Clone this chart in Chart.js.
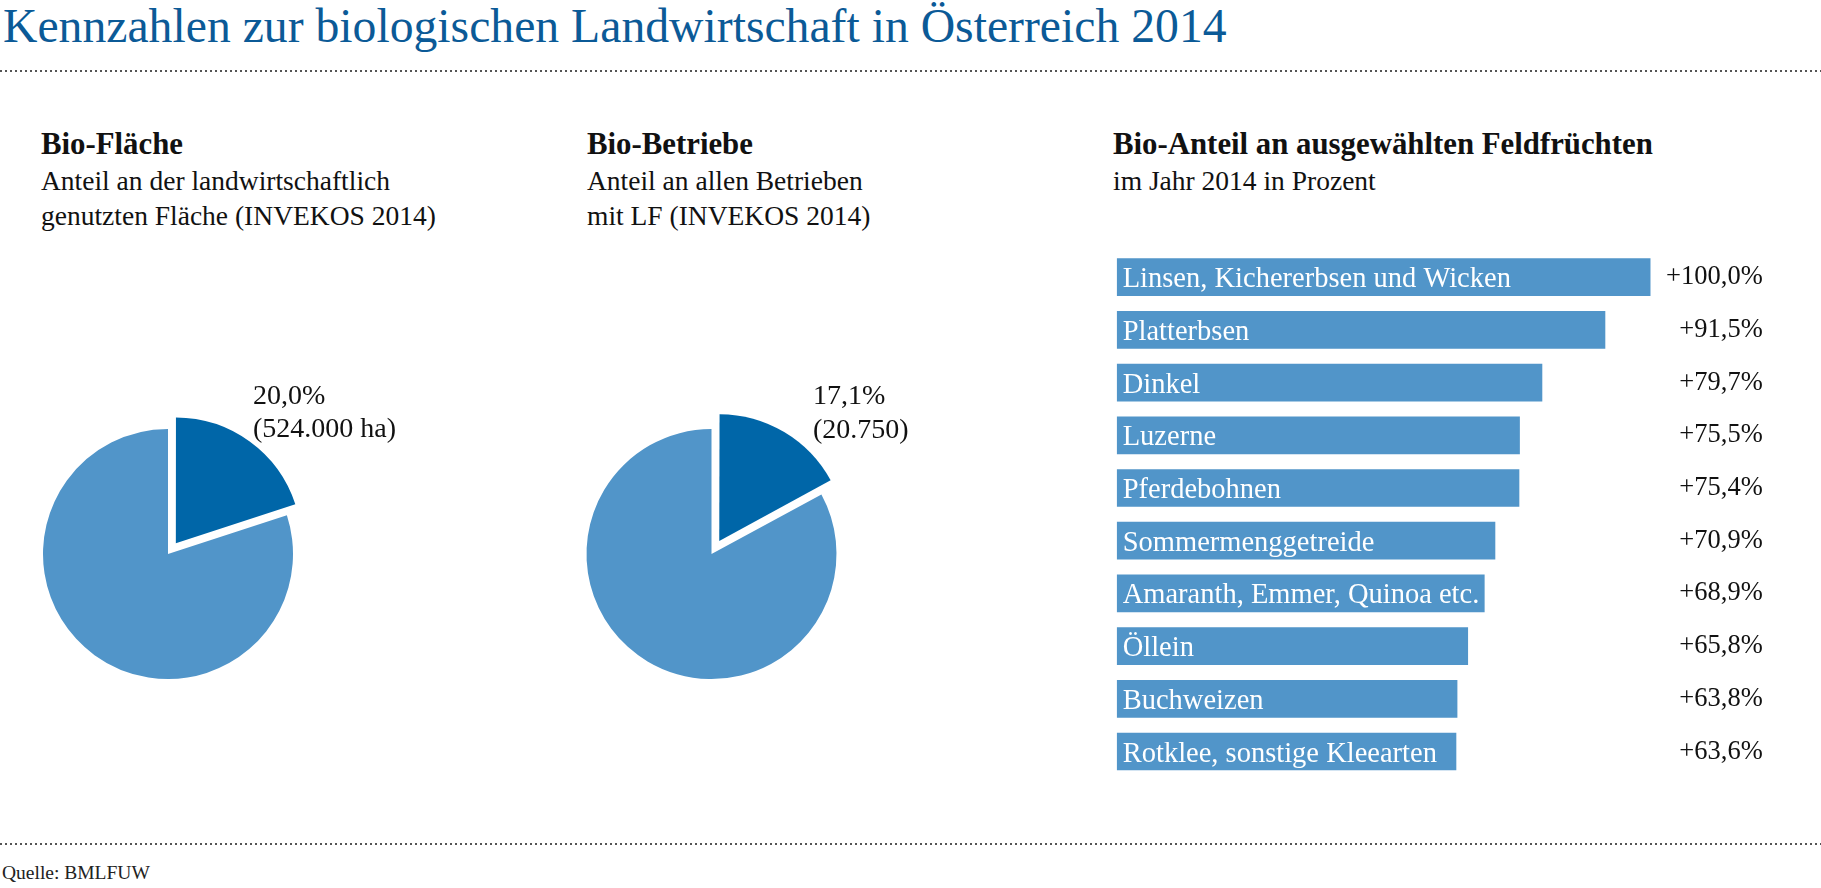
<!DOCTYPE html>
<html lang="de">
<head>
<meta charset="utf-8">
<title>Kennzahlen zur biologischen Landwirtschaft in Österreich 2014</title>
<script src="https://cdn.jsdelivr.net/npm/chart.js@4.4.1/dist/chart.umd.min.js"></script>
<style>
    html, body { margin: 0; padding: 0; background: #fff; }
    body {
        width: 1821px; height: 888px; position: relative; overflow: hidden;
        font-family: "Liberation Serif", "Times New Roman", serif; color: #111;
    }
    .abs { position: absolute; white-space: nowrap; }
    #title { left: 3px; top: 2px; font-size: 47.7px; line-height: 48px; color: #0b5a97; }
    .dots {
        position: absolute; left: 0; width: 1821px; height: 2px;
        background: repeating-linear-gradient(to right, #555 0 2px, transparent 2px 5px);
    }
    .head { top: 129px; font-weight: bold; font-size: 30.8px; line-height: 31px; }
    .sub { top: 163px; font-size: 27.5px; line-height: 35px; }
    #source { left: 2px; top: 863px; font-size: 19.5px; line-height: 19.5px; color: #222; }
    canvas { position: absolute; }
</style>
</head>
<body>

<div id="title" class="abs">Kennzahlen zur biologischen Landwirtschaft in Österreich 2014</div>
<div class="dots" style="top:70px"></div>

<div class="abs head" style="left:41px">Bio-Fläche</div>
<div class="abs sub" style="left:41px">Anteil an der landwirtschaftlich<br>genutzten Fläche (INVEKOS 2014)</div>

<div class="abs head" style="left:587px">Bio-Betriebe</div>
<div class="abs sub" style="left:587px">Anteil an allen Betrieben<br>mit LF (INVEKOS 2014)</div>

<div class="abs head" style="left:1113px">Bio-Anteil an ausgewählten Feldfrüchten</div>
<div class="abs sub" style="left:1113px">im Jahr 2014 in Prozent</div>

<canvas id="pie-flaeche" width="480" height="360" style="left:0px; top:360px"></canvas>
<canvas id="pie-betriebe" width="480" height="360" style="left:540px; top:360px"></canvas>
<canvas id="bar-crops" width="721" height="560" style="left:1100px; top:240px"></canvas>

<div class="dots" style="top:843px"></div>
<div id="source" class="abs">Quelle: BMLFUW</div>

<script>
// Data
const flaecheShare = [20.0, 80.0];
const flaecheLabel = ['20,0%', '(524.000 ha)'];

const betriebeShare = [17.1, 82.9];
const betriebeLabel = ['17,1%', '(20.750)'];

const crops = [
    'Linsen, Kichererbsen und Wicken',
    'Platterbsen',
    'Dinkel',
    'Luzerne',
    'Pferdebohnen',
    'Sommermenggetreide',
    'Amaranth, Emmer, Quinoa etc.',
    'Öllein',
    'Buchweizen',
    'Rotklee, sonstige Kleearten'
];
const cropShares = [100.0, 91.5, 79.7, 75.5, 75.4, 70.9, 68.9, 65.8, 63.8, 63.6];

const DARK = '#0066a8';
const LIGHT = '#5195c9';
const SERIF = '"Liberation Serif", "Times New Roman", serif';

function fmtPct(v) {
    return '+' + v.toFixed(1).replace('.', ',') + '%';
}

// Two-line label next to the exploded slice
const pieLabelPlugin = {
    id: 'pieLabel',
    afterDraw(chart, args, opts) {
        const arc = chart.getDatasetMeta(0).data[0];
        const ctx = chart.ctx;
        ctx.save();
        ctx.font = '28px ' + SERIF;
        ctx.fillStyle = '#111';
        ctx.textAlign = 'left';
        ctx.textBaseline = 'alphabetic';
        opts.lines.forEach((t, i) => {
            ctx.fillText(t, arc.x + opts.dx, arc.y + opts.dy + i * opts.lineGap);
        });
        ctx.restore();
    }
};

// Chart.js moves an arc by offset/4 * (1 + fix), so the offset is scaled up here
function renderPie(id, shares, lines, padding, shift, dx, lineGap) {
    const sweep = shares[0] / 100 * 2 * Math.PI;
    const fix = 1 - Math.sin(Math.min(Math.PI, sweep));
    const offset = shift * 4 / (1 + fix);
    return new Chart(document.getElementById(id), {
        type: 'pie',
        data: {
            labels: ['Bio', 'Konventionell'],
            datasets: [{
                data: shares,
                backgroundColor: [DARK, LIGHT],
                borderWidth: 0,
                offset: [offset, 0],
                radius: 125
            }]
        },
        options: {
            responsive: false,
            animation: false,
            layout: { padding: padding },
            plugins: {
                legend: { display: false },
                tooltip: { enabled: false },
                pieLabel: { lines: lines, dx: dx, dy: -150, lineGap: lineGap }
            }
        },
        plugins: [pieLabelPlugin]
    });
}

renderPie('pie-flaeche', flaecheShare, flaecheLabel,
    { left: 18, right: 162, top: 44, bottom: 16 }, 14, 85, 33);
renderPie('pie-betriebe', betriebeShare, betriebeLabel,
    { left: 21.5, right: 158.5, top: 44, bottom: 16 }, 17, 101.5, 34);

// Labels inside the bars and values to the right
const barLabelPlugin = {
    id: 'barLabels',
    afterDatasetsDraw(chart) {
        const { ctx, chartArea } = chart;
        const meta = chart.getDatasetMeta(0);
        ctx.save();
        ctx.textBaseline = 'alphabetic';
        meta.data.forEach((bar, i) => {
            ctx.font = '28.5px ' + SERIF;
            ctx.fillStyle = '#fff';
            ctx.textAlign = 'left';
            ctx.fillText(chart.data.labels[i], chartArea.left + 6, bar.y + 10);

            ctx.font = '26.5px ' + SERIF;
            ctx.fillStyle = '#111';
            ctx.textAlign = 'right';
            ctx.fillText(fmtPct(chart.data.datasets[0].data[i]), chartArea.right + 112, bar.y + 7);
        });
        ctx.restore();
    }
};

new Chart(document.getElementById('bar-crops'), {
    type: 'bar',
    data: {
        labels: crops,
        datasets: [{
            data: cropShares,
            backgroundColor: LIGHT,
            borderWidth: 0,
            barPercentage: 0.715,
            categoryPercentage: 1
        }]
    },
    options: {
        indexAxis: 'y',
        responsive: false,
        animation: false,
        layout: { padding: { left: 16.7, right: 170.3, top: 10.85, bottom: 22.15 } },
        scales: {
            x: { display: false, min: 0, max: 100 },
            y: { display: false }
        },
        plugins: {
            legend: { display: false },
            tooltip: { enabled: false }
        }
    },
    plugins: [barLabelPlugin]
});
</script>
</body>
</html>
